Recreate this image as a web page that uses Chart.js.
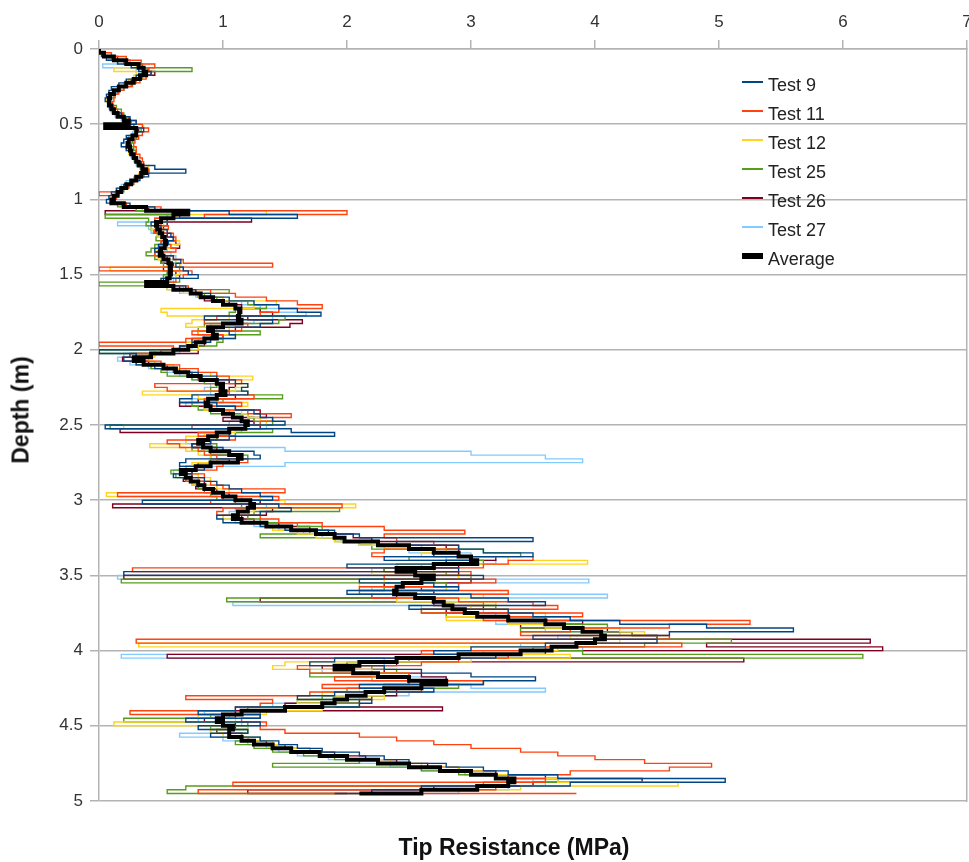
<!DOCTYPE html>
<html>
<head>
    <title>Tip Resistance vs Depth</title>
    <script src="https://cdn.jsdelivr.net/npm/chart.js"></script>
    <style>
        body { margin: 0; background: #fff; }
        #wrap { position: relative; width: 969px; height: 862px; font-family: 'Liberation Sans', Arial, sans-serif; }
        canvas { position: absolute; left: 0; top: 0; }
        .ytitle {
            position: absolute; left: 21px; top: 410px;
            transform: translate(-50%, -50%) rotate(-90deg);
            font-weight: bold; font-size: 23px; line-height: 23px; white-space: nowrap; color: #111;
        }
        .xtitle {
            position: absolute; left: 514px; top: 836px; transform: translateX(-50%);
            font-weight: bold; font-size: 23px; line-height: 23px; white-space: nowrap; color: #111;
        }
        #legend { position: absolute; left: 742px; top: 71px; }
        .item { position: relative; height: 29px; }
        .item .swatch { position: absolute; left: 0; width: 21px; }
        .item .label { position: absolute; left: 26px; top: 3px; font-size: 18px; line-height: 22px; color: #222; white-space: nowrap; }
    </style>
</head>
<body>
<div id="wrap">
    <canvas id="depthChart" width="969" height="862"></canvas>
    <div class="ytitle">Depth (m)</div>
    <div class="xtitle">Tip Resistance (MPa)</div>
    <div id="legend"></div>
</div>

<script>
    // depth of each reading (m)
    const depth = [
        0, 0.025, 0.05, 0.075, 0.1, 0.125, 0.15, 0.175, 0.2, 0.225,
        0.25, 0.275, 0.3, 0.325, 0.35, 0.375, 0.4, 0.425, 0.45, 0.475,
        0.5, 0.525, 0.55, 0.575, 0.6, 0.625, 0.65, 0.675, 0.7, 0.725,
        0.75, 0.775, 0.8, 0.825, 0.85, 0.875, 0.9, 0.925, 0.95, 0.975,
        1, 1.025, 1.05, 1.075, 1.1, 1.125, 1.15, 1.175, 1.2, 1.225,
        1.25, 1.275, 1.3, 1.325, 1.35, 1.375, 1.4, 1.425, 1.45, 1.475,
        1.5, 1.525, 1.55, 1.575, 1.6, 1.625, 1.65, 1.675, 1.7, 1.725,
        1.75, 1.775, 1.8, 1.825, 1.85, 1.875, 1.9, 1.925, 1.95, 1.975,
        2, 2.025, 2.05, 2.075, 2.1, 2.125, 2.15, 2.175, 2.2, 2.225,
        2.25, 2.275, 2.3, 2.325, 2.35, 2.375, 2.4, 2.425, 2.45, 2.475,
        2.5, 2.525, 2.55, 2.575, 2.6, 2.625, 2.65, 2.675, 2.7, 2.725,
        2.75, 2.775, 2.8, 2.825, 2.85, 2.875, 2.9, 2.925, 2.95, 2.975,
        3, 3.025, 3.05, 3.075, 3.1, 3.125, 3.15, 3.175, 3.2, 3.225,
        3.25, 3.275, 3.3, 3.325, 3.35, 3.375, 3.4, 3.425, 3.45, 3.475,
        3.5, 3.525, 3.55, 3.575, 3.6, 3.625, 3.65, 3.675, 3.7, 3.725,
        3.75, 3.775, 3.8, 3.825, 3.85, 3.875, 3.9, 3.925, 3.95, 3.975,
        4, 4.025, 4.05, 4.075, 4.1, 4.125, 4.15, 4.175, 4.2, 4.225,
        4.25, 4.275, 4.3, 4.325, 4.35, 4.375, 4.4, 4.425, 4.45, 4.475,
        4.5, 4.525, 4.55, 4.575, 4.6, 4.625, 4.65, 4.675, 4.7, 4.725,
        4.75, 4.775, 4.8, 4.825, 4.85, 4.875, 4.9, 4.925, 4.95
    ];

    // tip resistance (MPa) per test
    const test9 = [
        0, 0.02, 0.06, 0.15, 0.26, 0.32, 0.42, 0.3, 0.22, 0.16,
        0.1, 0.08, 0.06, 0.05, 0.07, 0.09, 0.12, 0.18, 0.25, 0.3,
        0.12, 0.36, 0.3, 0.22, 0.2, 0.18, 0.22, 0.25, 0.28, 0.31,
        0.34, 0.45, 0.7, 0.4, 0.33, 0.27, 0.2, 0.14, 0.1, 0.08,
        0.06, 0.25, 0.45, 1.05, 1.6, 0.55, 0.42, 0.5, 0.55, 0.58,
        0.6, 0.56, 0.48, 0.45, 0.52, 0.6, 0.66, 0.62, 0.68, 0.72,
        0.8, 0.5, 0.45, 0.7, 0.78, 0.9, 1.05, 1.25, 1.45, 1.6,
        1.79, 0.85, 1.4, 1.3, 0.9, 1.05, 1.1, 0.9, 0.75, 0.65,
        0, 0.3, 0.2, 0.3, 0.45, 0.6, 0.8, 0.95, 1.1, 1.2,
        1.15, 1.2, 0.75, 0.65, 0.95, 1.1, 1.25, 1.3, 1.4, 1.5,
        0.05, 1.55, 1.9, 1.05, 0.9, 0.75, 1.0, 1.25, 1.3, 0.7,
        0.65, 0.85, 0.75, 0.6, 0.85, 0.95, 1.05, 1.15, 1.3, 1.4,
        0.35, 1.45, 1.55, 1.3, 0.95, 1.0, 1.3, 1.5, 1.9, 2.1,
        3.5, 2.4, 2.9, 3.1, 3.5, 2.3, 3.0, 2.0, 2.9, 0.2,
        3.1, 2.1, 2.7, 2.9, 2.0, 3.0, 3.3, 3.6, 2.5, 3.3,
        3.5, 3.8, 4.2, 4.9, 5.6, 4.6, 3.5, 4.5, 3.6, 3.0,
        2.7, 3.2, 1.9, 1.7, 2.3, 2.6, 3.0, 3.52, 3.1, 2.1,
        2.7, 1.9, 1.6, 2.2, 2.1, 1.1, 0.8, 1.3, 0.7, 1.3,
        0.8, 1.2, 0.9, 1.3, 1.45, 1.6, 1.8, 2.1, 2.3, 2.5,
        2.8, 3.1, 3.3, 3.7, 5.05, 3.8, 2.6, 2.2, 1.9
    ];
    const test11 = [
        0, 0.1, 0.22, 0.34, 0.45, 0.4, 0.42, 0.38, 0.33, 0.27,
        0.2, 0.16, 0.13, 0.12, 0.11, 0.12, 0.15, 0.19, 0.24, 0.3,
        0.35, 0.4, 0.35, 0.32, 0.29, 0.28, 0.3, 0.3, 0.33, 0.35,
        0.36, 0.36, 0.4, 0.36, 0.32, 0.28, 0.24, 0.18, 0, 0.14,
        0.12, 0.22, 0.5, 2.0, 0.85, 0.45, 0.5, 0.56, 0.45, 0.6,
        0.62, 0.5, 0.58, 0.62, 0.45, 0.6, 0.68, 1.4, 0, 0.75,
        0.68, 0.62, 0.5, 0.72, 0.9, 1.1, 1.35, 1.6, 1.8, 1.45,
        1.3, 0.95, 0.85, 1.2, 1.15, 0.75, 1.0, 0.7, 0, 0.6,
        0.5, 0.3, 0.35, 0.5, 0.65, 0.8, 0.95, 1.05, 1.15, 0.45,
        0.55, 1.05, 1.25, 0.85, 1.15, 0.9, 1.2, 1.55, 1.4, 1.3,
        0.75, 1.05, 0.8, 1.1, 0.55, 0.65, 0.8, 0.85, 0.95, 1.2,
        1.0, 0.95, 0.75, 0.85, 0.7, 0.9, 1.0, 1.5, 0.15, 1.45,
        0.9, 1.96, 1.0, 0.95, 1.3, 1.45, 1.8, 2.3, 2.95, 2.3,
        2.4, 2.7, 2.9, 2.3, 2.2, 3.5, 3.3, 3.1, 0.27, 3.0,
        2.3, 3.2, 2.9, 2.1, 3.3, 2.2, 2.9, 3.5, 3.7, 2.6,
        3.9, 3.1, 5.25, 4.6, 3.8, 3.4, 4.6, 0.3, 4.7, 3.6,
        2.6, 3.3, 2.9, 2.6, 1.6, 1.7, 2.5, 1.9, 3.1, 1.8,
        2.6, 1.7, 0.7, 1.4, 1.3, 1.1, 0.25, 1.3, 1.15, 1.35,
        1.3, 1.5, 2.1, 2.4, 2.7, 3.0, 3.4, 3.7, 4.0, 4.4,
        4.94, 4.6, 3.8, 3.3, 3.6, 1.08, 3.2, 0.8, 3.85
    ];
    const test12 = [
        0, 0.05, 0.14, 0.25, 0.3, 0.12, 0.3, 0.28, 0.24, 0.2,
        0.15, 0.12, 0.07, 0.06, 0.07, 0.09, 0.11, 0.15, 0.2, 0.23,
        0.36, 0.3, 0.28, 0.26, 0.24, 0.25, 0.26, 0.24, 0.28, 0.3,
        0.34, 0.4, 0.36, 0.32, 0.29, 0.25, 0.22, 0.18, 0.14, 0.12,
        0.1, 0.22, 0.45, 1.35, 0.62, 0.55, 0.52, 0.42, 0.55, 0.47,
        0.5, 0.65, 0.58, 0.46, 0.45, 0.48, 0.62, 0.66, 0.09, 0.65,
        0.62, 0.5, 0.48, 0.55, 0.68, 0.8, 1.0, 1.43, 1.25, 0.5,
        0.55, 1.05, 0.75, 0.7, 1.05, 0.8, 1.1, 0.9, 0.7, 0.8,
        0.45, 0.45, 0.4, 0.45, 0.6, 0.7, 0.9, 1.24, 1.1, 1.2,
        1.1, 0.35, 0.8, 0.95, 1.2, 0.85, 1.15, 1.2, 1.3, 1.35,
        0.2, 1.1, 0.85, 0.7, 0.7, 0.41, 0.7, 0.8, 0.9, 0.95,
        0.75, 0.7, 0.75, 0.8, 0.9, 0.75, 0.95, 1.05, 0.06, 1.3,
        1.5, 2.07, 1.25, 1.2, 1.0, 1.1, 1.3, 1.4, 1.6, 1.75,
        1.9, 2.1, 2.3, 2.8, 2.6, 3.3, 3.94, 2.4, 2.7, 2.2,
        2.9, 2.3, 2.1, 2.8, 2.6, 3.1, 2.4, 3.2, 3.0, 3.3,
        3.6, 2.8, 3.3, 3.6, 4.2, 4.4, 3.8, 4.2, 0.32, 3.7,
        3.0, 3.8, 3.0, 1.5, 1.4, 2.2, 2.5, 2.2, 3.1, 2.3,
        2.1, 1.8, 2.3, 1.6, 1.9, 1.8, 1.35, 0.8, 1.1, 0.12,
        1.2, 0.9, 1.0, 1.2, 1.4, 1.55, 1.7, 1.8, 2.0, 2.35,
        2.6, 2.9, 3.1, 3.3, 3.7, 4.67, 3.4, 2.6, 2.4
    ];
    const test25 = [
        0, 0.03, 0.1, 0.2, 0.35, 0.75, 0.42, 0.35, 0.3, 0.26,
        0.2, 0.15, 0.12, 0.1, 0.1, 0.14, 0.18, 0.2, 0.22, 0.26,
        0.28, 0.34, 0.3, 0.3, 0.27, 0.26, 0.28, 0.3, 0.29, 0.3,
        0.31, 0.34, 0.4, 0.35, 0.3, 0.28, 0.24, 0.2, 0.16, 0.14,
        0.12, 0.15, 0.3, 0.6, 0.05, 0.4, 0.38, 0.42, 0.44, 0.47,
        0.46, 0.5, 0.45, 0.42, 0.38, 0.45, 0.5, 0.52, 0.65, 0.55,
        0.52, 0.65, 0, 0.55, 1.05, 0.85, 0.95, 1.2, 1.35, 1.1,
        1.05, 1.5, 1.45, 0.85, 0.8, 1.3, 0.9, 1.0, 0.95, 0.8,
        0, 0.4, 0.35, 0.3, 0.42, 0.5, 0.55, 0.75, 0.85, 0.95,
        0.9, 1.2, 1.48, 1.0, 0.75, 0.8, 0.9, 1.2, 1.25, 1.4,
        0.09, 1.4, 1.1, 0.95, 0.9, 0.95, 0.75, 0.9, 1.2, 0.9,
        0.8, 0.65, 0.58, 0.62, 0.7, 0.75, 0.8, 0.85, 0.9, 0.95,
        1.1, 1.15, 1.94, 1.25, 1.2, 1.3, 1.6, 1.8, 1.7, 1.3,
        1.9, 2.1, 2.2, 3.1, 3.4, 2.5, 3.1, 2.4, 2.3, 2.8,
        3.0, 0.18, 2.8, 2.3, 2.1, 2.2, 1.03, 3.1, 3.2, 2.6,
        2.8, 3.6, 3.3, 4.1, 3.4, 4.3, 4.5, 5.1, 4.4, 3.5,
        3.9, 6.16, 2.5, 2.0, 2.2, 2.4, 1.7, 2.2, 2.8, 2.9,
        2.0, 2.3, 1.8, 1.6, 2.1, 1.2, 1.3, 0.9, 0.2, 1.2,
        0.9, 1.2, 1.15, 1.3, 1.1, 1.25, 1.4, 1.65, 1.9, 2.1,
        1.4, 2.6, 2.9, 3.3, 3.7, 3.1, 0.7, 0.55, 2.3
    ];
    const test26 = [
        0, 0.05, 0.15, 0.25, 0.35, 0.4, 0.45, 0.32, 0.26, 0.2,
        0.16, 0.12, 0.1, 0.1, 0.09, 0.11, 0.13, 0.16, 0.21, 0.25,
        0.28, 0.32, 0.3, 0.26, 0.24, 0.25, 0.24, 0.25, 0.27, 0.3,
        0.32, 0.35, 0.4, 0.36, 0.32, 0.27, 0.22, 0.17, 0.14, 0.12,
        0.1, 0.22, 0.4, 0.05, 0.65, 1.23, 0.55, 0.52, 0.46, 0.55,
        0.6, 0.62, 0.65, 0.48, 0.45, 0.55, 0.5, 0.6, 0.52, 0.62,
        0.65, 0.52, 0.45, 0.65, 0.78, 0.8, 0.85, 1.05, 1.15, 1.3,
        1.4, 1.2, 1.64, 1.54, 1.1, 0.8, 1.0, 0.75, 0.85, 0.65,
        0.8, 0.25, 0.19, 0.4, 0.55, 0.65, 0.75, 0.8, 1.05, 1.1,
        1.05, 1.0, 1.1, 0.8, 0.65, 1.1, 1.3, 1.35, 1.0, 1.25,
        1.3, 0.17, 1.05, 0.95, 0.9, 0.75, 0.95, 1.05, 0.9, 1.05,
        0.8, 0.7, 0.7, 0.75, 0.68, 0.85, 0.78, 0.95, 1.05, 1.0,
        1.3, 0.11, 1.4, 1.35, 1.15, 1.25, 1.45, 1.7, 1.85, 2.05,
        2.2, 2.4, 2.8, 2.9, 2.7, 3.2, 2.8, 2.9, 2.3, 2.9,
        0.2, 3.0, 2.3, 2.6, 2.7, 2.4, 1.3, 2.7, 3.1, 2.8,
        3.3, 3.6, 3.9, 3.4, 4.1, 4.3, 4.5, 6.22, 4.9, 6.32,
        3.6, 0.55, 5.2, 2.4, 1.8, 2.3, 2.6, 2.8, 2.5, 2.3,
        2.4, 2.4, 2.2, 2.1, 1.5, 2.77, 1.1, 1.1, 0.85, 1.1,
        1.1, 0.95, 1.15, 1.2, 1.35, 1.5, 1.7, 1.9, 2.15, 2.4,
        2.65, 2.9, 3.2, 3.6, 4.38, 3.5, 2.7, 1.2, 2.0
    ];
    const test27 = [
        0, 0.03, 0.08, 0.15, 0.03, 0.3, 0.35, 0.3, 0.28, 0.25,
        0.2, 0.14, 0.1, 0.08, 0.07, 0.08, 0.1, 0.13, 0.18, 0.22,
        0.26, 0.28, 0.27, 0.24, 0.2, 0.18, 0.22, 0.24, 0.26, 0.28,
        0.3, 0.33, 0.36, 0.33, 0.28, 0.22, 0.18, 0.15, 0.13, 0.11,
        0.09, 0.18, 0.35, 0.6, 0.55, 0.45, 0.15, 0.4, 0.42, 0.48,
        0.5, 0.5, 0.48, 0.55, 0.58, 0.62, 0.5, 0.65, 0.68, 0.55,
        0.52, 0.6, 0.6, 0.68, 0.65, 0.78, 0.9, 1.15, 1.3, 1.45,
        1.67, 1.4, 1.25, 0.9, 0.95, 1.1, 0.85, 0.8, 0.7, 0.75,
        0.65, 0.2, 0.15, 0.25, 0.4, 0.55, 0.65, 0.75, 0.85, 0.9,
        0.85, 0.9, 0.95, 0.75, 0.7, 0.95, 1.05, 1.2, 1.25, 1.05,
        1.35, 1.15, 1.1, 0.8, 0.7, 0.85, 1.5, 3.0, 3.6, 3.9,
        1.5, 0.7, 0.6, 0.65, 0.8, 0.85, 0.95, 0.9, 1.05, 1.15,
        1.3, 1.35, 1.1, 1.05, 1.0, 1.1, 1.25, 1.45, 1.65, 1.8,
        1.95, 2.1, 2.6, 2.5, 3.0, 2.8, 3.2, 2.6, 2.2, 2.9,
        0.15, 3.95, 2.8, 2.2, 2.7, 4.1, 2.4, 1.08, 2.6, 3.1,
        3.2, 3.5, 3.2, 3.9, 3.6, 4.2, 3.7, 4.0, 3.4, 3.9,
        3.1, 0.18, 2.3, 2.3, 1.7, 1.8, 2.5, 2.8, 2.5, 3.0,
        3.6, 2.5, 1.8, 2.1, 1.4, 1.5, 0.85, 1.05, 0.8, 1.15,
        1.2, 0.9, 0.65, 1.0, 1.2, 1.35, 1.45, 1.6, 1.85, 2.1,
        2.35, 2.6, 2.95, 3.2, 3.5, 3.6, 3.3, 2.9, 2.4
    ];
    const average = [
        0, 0.04, 0.12, 0.22, 0.32, 0.36, 0.38, 0.33, 0.28, 0.22,
        0.16, 0.12, 0.09, 0.08, 0.08, 0.1, 0.12, 0.15, 0.2, 0.24,
        0.05, 0.3, 0.3, 0.27, 0.24, 0.23, 0.25, 0.26, 0.28, 0.3,
        0.32, 0.35, 0.38, 0.34, 0.3, 0.26, 0.22, 0.18, 0.15, 0.12,
        0.1, 0.2, 0.38, 0.72, 0.6, 0.5, 0.46, 0.47, 0.49, 0.51,
        0.53, 0.54, 0.53, 0.5, 0.49, 0.52, 0.56, 0.58, 0.57, 0.58,
        0.57, 0.55, 0.38, 0.6, 0.74, 0.82, 0.92, 1.0, 1.1, 1.14,
        1.13, 1.12, 1.15, 1.0, 0.88, 0.92, 0.95, 0.85, 0.78, 0.72,
        0.6, 0.42, 0.28, 0.36, 0.52, 0.62, 0.72, 0.82, 0.95, 1.0,
        0.98, 1.02, 0.95, 0.88, 0.86, 0.9, 1.0, 1.08, 1.15, 1.2,
        1.18, 1.05, 0.95, 0.88, 0.8, 0.84, 0.9, 1.05, 1.15, 1.12,
        0.9, 0.78, 0.66, 0.7, 0.74, 0.8, 0.85, 0.92, 1.0, 1.1,
        1.22, 1.25, 1.2, 1.12, 1.08, 1.15, 1.35, 1.55, 1.75, 1.9,
        1.98, 2.25, 2.5, 2.7, 2.9, 3.0, 3.05, 2.7, 2.4, 2.55,
        2.7, 2.6, 2.45, 2.4, 2.38, 2.55, 2.7, 2.78, 2.85, 2.95,
        3.05, 3.3, 3.6, 3.75, 3.9, 4.05, 4.08, 4.0, 3.85, 3.65,
        3.4, 2.9, 2.4, 2.1, 1.9, 2.05, 2.25, 2.5, 2.8, 2.6,
        2.3, 2.15, 2.0, 1.9, 1.8, 1.5, 1.15, 1.0, 0.95, 1.0,
        1.08, 1.05, 1.05, 1.15, 1.25, 1.4, 1.55, 1.78, 2.0, 2.25,
        2.5, 2.75, 3.0, 3.2, 3.35, 3.3, 3.05, 2.6, 2.1
    ];

    const seriesNames = ['Test 9', 'Test 11', 'Test 12', 'Test 25', 'Test 26', 'Test 27', 'Average'];
    const seriesValues = [test9, test11, test12, test25, test26, test27, average];
    const seriesColors = ['#004586', '#ff420e', '#ffd320', '#579d1c', '#7e0021', '#83caff', '#000000'];

    Chart.defaults.font.family = "'Liberation Sans', Arial, sans-serif";

    const datasets = seriesNames.map((name, k) => ({
        label: name,
        data: depth.map((d, i) => ({ x: seriesValues[k][i], y: d })),
        borderColor: seriesColors[k],
        backgroundColor: seriesColors[k],
        borderWidth: name === 'Average' ? 4 : 1.4,
        showLine: true,
        stepped: 'after',
        pointRadius: 0,
        order: name === 'Average' ? 0 : 1
    }));

    const gridGrey = '#b3b3b3';
    const ctx = document.getElementById('depthChart').getContext('2d');
    new Chart(ctx, {
        type: 'scatter',
        data: { datasets: datasets },
        options: {
            responsive: false,
            animation: false,
            layout: { padding: { top: 0, right: 1, bottom: 61, left: 0 } },
            plugins: {
                legend: { display: false },
                tooltip: { enabled: false }
            },
            scales: {
                x: {
                    type: 'linear',
                    position: 'top',
                    min: 0,
                    max: 7,
                    ticks: { stepSize: 1, color: '#333', font: { size: 17 }, padding: 7 },
                    grid: { drawOnChartArea: false, tickLength: 9, color: gridGrey, lineWidth: 1.5 },
                    border: { color: gridGrey, width: 1.5 },
                    afterFit: s => { s.height = 49; s.paddingLeft = 0; s.paddingRight = 0; }
                },
                y: {
                    type: 'linear',
                    reverse: true,
                    min: 0,
                    max: 5,
                    ticks: {
                        stepSize: 0.5, color: '#333', font: { size: 17 }, padding: 7,
                        callback: v => String(Math.round(v * 10) / 10)
                    },
                    grid: { tickLength: 9, color: gridGrey, lineWidth: 1.5 },
                    border: { color: gridGrey, width: 1.5 },
                    afterFit: s => { s.width = 99; }
                },
                yRight: {
                    type: 'linear',
                    position: 'right',
                    min: 0,
                    max: 5,
                    ticks: { display: false },
                    grid: { display: false },
                    border: { color: gridGrey, width: 1.5 },
                    afterFit: s => { s.width = 1; }
                }
            }
        }
    });

    // legend inside the plot, top right
    const legend = document.getElementById('legend');
    seriesNames.forEach((name, k) => {
        const row = document.createElement('div');
        row.className = 'item';
        const thick = name === 'Average' ? 6 : 2;
        row.innerHTML = '<span class="swatch" style="top:' + (11 - thick / 2) + 'px;height:' + thick +
            'px;background:' + seriesColors[k] + '"></span><span class="label">' + name + '</span>';
        legend.appendChild(row);
    });
</script>
</body>
</html>
